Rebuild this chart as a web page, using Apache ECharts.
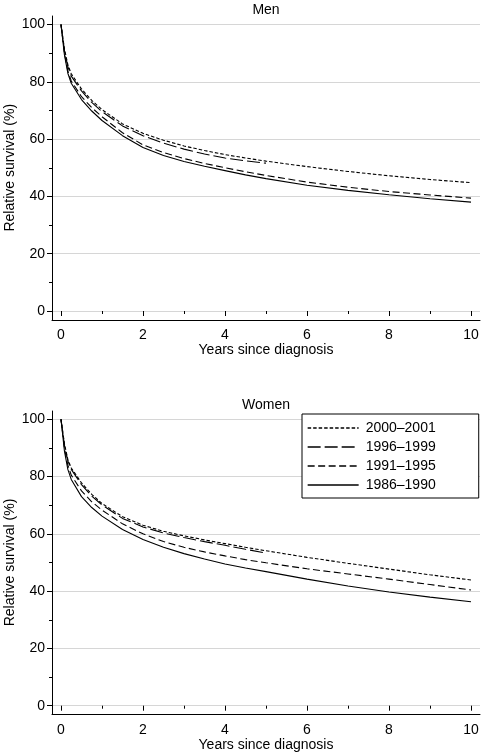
<!DOCTYPE html>
<html>
<head>
<meta charset="utf-8">
<script src="https://cdn.jsdelivr.net/npm/echarts@6/dist/echarts.min.js"></script>
<style>
html,body{margin:0;padding:0;background:#fff;}
#chart{width:482px;height:754px;}
</style>
</head>
<body>
<div id="chart"></div>
<script>
// Years since diagnosis
const years = [0, 0.083, 0.167, 0.25, 0.5, 0.75, 1, 1.5, 2, 2.5, 3, 3.5, 4, 4.5, 5, 6, 7, 8, 9, 10];
const periods = ['2000\u20132001', '1996\u20131999', '1991\u20131995', '1986\u20131990'];

// Men, relative survival (%)
const men2000 = [100, 91.5, 86, 82.8, 77.5, 73.5, 70.3, 65.3, 62, 59.6, 57.6, 56, 54.6, 53.4, 52.3, 50.4, 48.7, 47.2, 45.9, 44.8];
const men1996 = [100, 91, 85.3, 82, 76.8, 72.8, 69.6, 64.6, 61.2, 58.6, 56.5, 54.8, 53.4, 52.4, 51.6, null, null, null, null, null];
const men1991 = [100, 90, 83.8, 80.3, 74.8, 71, 67.8, 62.2, 58, 55.3, 53.2, 51.5, 50, 48.6, 47.3, 45, 43.2, 41.7, 40.5, 39.4];
const men1986 = [100, 89.5, 83, 79.5, 73.8, 69.8, 66.5, 61.2, 57.1, 54.3, 52.2, 50.5, 49, 47.5, 46.2, 43.9, 42.1, 40.6, 39.2, 38];

// Women, relative survival (%)
const women2000 = [100, 91.5, 86, 83, 77.8, 73.8, 70.6, 66, 63, 60.9, 59.3, 57.9, 56.6, 55.3, 54.1, 51.8, 49.7, 47.7, 45.7, 43.9];
const women1996 = [100, 91, 85.5, 82.5, 77.2, 73.2, 70.1, 65.4, 62.4, 60.3, 58.7, 57.3, 56, 54.6, 53.3, null, null, null, null, null];
const women1991 = [100, 90, 84, 80.5, 75, 71.2, 68.3, 63.5, 60, 57.3, 55.3, 53.7, 52.3, 51, 49.9, 47.8, 46, 44.2, 42.3, 40.4];
const women1986 = [100, 89, 82.5, 79, 73, 69.2, 66.2, 61.5, 58, 55.3, 53.1, 51.2, 49.5, 48.1, 46.8, 44.2, 41.8, 39.7, 37.9, 36.3];

const xTicks = [0, 2, 4, 6, 8, 10];
const yTicks = [0, 20, 40, 60, 80, 100];

const FONT = 'Liberation Sans, Arial, Helvetica, sans-serif';
const dashes = [[3.5, 2], [13, 4], [7, 3.5], 'solid'];

function pairs(vals) {
  const out = [];
  years.forEach((t, i) => { if (vals[i] != null) out.push([t, vals[i]]); });
  return out;
}

const panels = [
  { title: 'Men', frameTop: 16, frameH: 304, dataTop: 24.5, dataH: 286.5, sets: [men2000, men1996, men1991, men1986] },
  { title: 'Women', frameTop: 411, frameH: 303, dataTop: 419.3, dataH: 286.4, sets: [women2000, women1996, women1991, women1986] }
];

const grid = [], xAxis = [], yAxis = [], series = [], title = [];
const axisColor = '#000';

panels.forEach((p, k) => {
  const base = k * 3;
  // frame grid (axis lines only)
  grid.push({ left: 52, top: p.frameTop, width: 428, height: p.frameH, outerBoundsMode: 'none', containLabel: false });
  xAxis.push({ gridIndex: base, type: 'value', min: 0, max: 1, axisLine: { show: true, onZero: false, lineStyle: { color: axisColor, width: 1 } }, axisTick: { show: false }, axisLabel: { show: false }, splitLine: { show: false } });
  yAxis.push({ gridIndex: base, type: 'value', min: 0, max: 1, axisLine: { show: true, onZero: false, lineStyle: { color: axisColor, width: 1 } }, axisTick: { show: false }, axisLabel: { show: false }, splitLine: { show: false } });
  // y grid (ticks, labels, gridlines)
  grid.push({ left: 52, top: p.dataTop, width: 428, height: p.dataH, outerBoundsMode: 'none', containLabel: false });
  xAxis.push({ gridIndex: base + 1, type: 'value', min: 0, max: 1, show: false });
  yAxis.push({
    gridIndex: base + 1, type: 'value', min: yTicks[0], max: yTicks[yTicks.length - 1], interval: yTicks[1] - yTicks[0],
    axisLine: { show: false },
    axisTick: { show: true, length: 5, lineStyle: { color: axisColor } },
    minorTick: { show: true, splitNumber: 2, length: 3, lineStyle: { color: axisColor } },
    splitLine: { show: true, lineStyle: { color: '#d6d6d6', width: 1 } },
    axisLabel: { color: '#000', fontSize: 14, fontFamily: FONT, margin: 7 },
    name: 'Relative survival (%)', nameLocation: 'middle', nameGap: 35, nameMoveOverlap: false,
    nameTextStyle: { color: '#000', fontSize: 14, fontFamily: FONT }
  });
  // data grid (x ticks + series)
  grid.push({ left: 61, top: p.dataTop, width: 410, height: p.dataH, outerBoundsMode: 'none', containLabel: false });
  xAxis.push({
    gridIndex: base + 2, type: 'value', min: xTicks[0], max: xTicks[xTicks.length - 1], interval: xTicks[1] - xTicks[0], offset: 9,
    axisLine: { show: false },
    axisTick: { show: true, length: 5, lineStyle: { color: axisColor } },
    minorTick: { show: true, splitNumber: 2, length: 3, lineStyle: { color: axisColor } },
    splitLine: { show: false },
    axisLabel: { color: '#000', fontSize: 14, fontFamily: FONT, margin: 8 },
    name: 'Years since diagnosis', nameLocation: 'middle', nameGap: 23, nameMoveOverlap: false,
    nameTextStyle: { color: '#000', fontSize: 14, fontFamily: FONT }
  });
  yAxis.push({ gridIndex: base + 2, type: 'value', min: 0, max: 100, show: false });
  p.sets.forEach((vals, i) => {
    series.push({
      name: periods[i], type: 'line', xAxisIndex: base + 2, yAxisIndex: base + 2,
      data: pairs(vals), symbol: 'none', smooth: false,
      lineStyle: { color: '#000', width: 1.1, type: dashes[i] },
      itemStyle: { color: 'rgba(0,0,0,0)', borderWidth: 0 },
      emphasis: { disabled: true }
    });
  });
  title.push({ text: p.title, left: 266, textAlign: 'center', top: p.frameTop - 13, padding: 0,
    textStyle: { color: '#000', fontSize: 14, fontWeight: 'normal', fontFamily: FONT } });
});

const chart = echarts.init(document.getElementById('chart'), null, { renderer: 'canvas' });
chart.setOption({
  animation: false,
  backgroundColor: '#fff',
  title: title,
  grid: grid,
  xAxis: xAxis,
  yAxis: yAxis,
  legend: {
    data: periods, orient: 'vertical', left: 302, top: 414,
    padding: [7, 43, 6, 5], itemGap: 5, itemWidth: 51, itemHeight: 14,
    borderColor: '#000', borderWidth: 1, backgroundColor: '#fff', borderRadius: 0,
    itemStyle: { opacity: 0, borderWidth: 0 },
    lineStyle: { width: 1.3 },
    textStyle: { color: '#000', fontSize: 14, fontFamily: FONT, padding: [0, 0, 0, 2] },
    selectedMode: false
  },
  series: series
});
</script>
</body>
</html>
